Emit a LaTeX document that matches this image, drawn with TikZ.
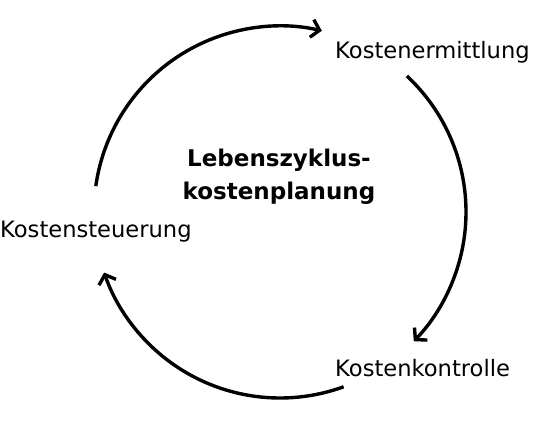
\documentclass[tikz,border=0pt]{standalone}
\usepackage{fontspec}
\setmainfont{DejaVu Sans}
\usetikzlibrary{arrows.meta}
\tikzset{
  cyc/.style={line width=3.4pt,-{Straight Barb[length=8pt,width=18pt,line width=3.4pt]}},
  lbl/.style={font=\fontsize{22.6}{26}\selectfont,inner sep=0pt},
  ctr/.style={font=\bfseries\fontsize{23}{33}\selectfont,align=center,inner sep=0pt}
}
\begin{document}
\begin{tikzpicture}[x=1pt,y=1pt]
\useasboundingbox (0,0) rectangle (550,434);
\coordinate (mid) at (280,222);
\node[ctr] (plan) at (279,257) {Lebenszyklus-\\kostenplanung};
\node[lbl,anchor=west] (ermittlung) at (335,382) {Kostenermittlung};
\node[lbl,anchor=west] (steuerung) at (0,202) {Kostensteuerung};
\node[lbl,anchor=west] (kontrolle) at (335,66) {Kostenkontrolle};
\draw[cyc] (mid) ++(172:186) arc[start angle=172,end angle=77,radius=186];
\draw[cyc] (mid) ++(47:186) arc[start angle=47,end angle=-44,radius=186];
\draw[cyc] (mid) ++(-70:186) arc[start angle=-70,end angle=-161,radius=186];
\end{tikzpicture}
\end{document}
